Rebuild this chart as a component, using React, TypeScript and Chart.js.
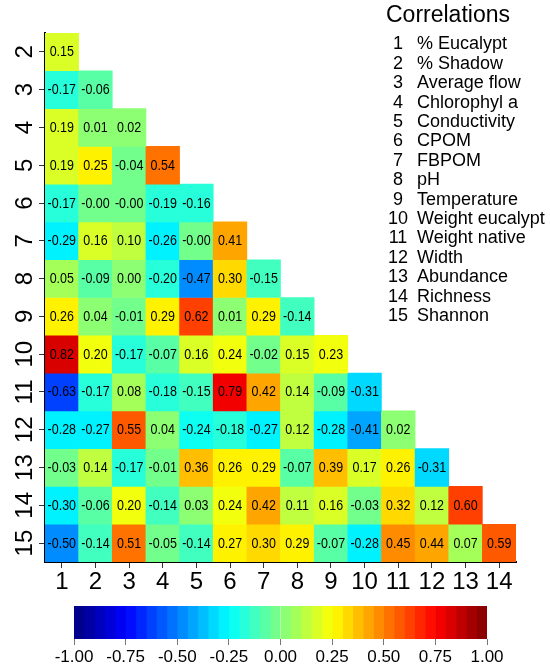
import React, { useEffect, useRef } from 'react';
import { Chart, registerables } from 'chart.js';

Chart.register(...registerables);

const FONT = '"Liberation Sans", Arial, sans-serif';

// column categories (variables 1..14) and row labels (variables 2..15)
const COLS = ['1', '2', '3', '4', '5', '6', '7', '8', '9', '10', '11', '12', '13', '14'];
const ROW_LABELS = [2, 3, 4, 5, 6, 7, 8, 9, 10, 11, 12, 13, 14, 15];

// lower-triangle correlations, one array per row
const ROW_2 = [0.15];
const ROW_3 = [-0.17, -0.06];
const ROW_4 = [0.19, 0.01, 0.02];
const ROW_5 = [0.19, 0.25, -0.04, 0.54];
const ROW_6 = [-0.17, -0.004, -0.004, -0.19, -0.16];
const ROW_7 = [-0.29, 0.16, 0.1, -0.26, -0.004, 0.41];
const ROW_8 = [0.05, -0.09, 0.0, -0.2, -0.47, 0.3, -0.15];
const ROW_9 = [0.26, 0.04, -0.01, 0.29, 0.62, 0.01, 0.29, -0.14];
const ROW_10 = [0.82, 0.2, -0.17, -0.07, 0.16, 0.24, -0.02, 0.15, 0.23];
const ROW_11 = [-0.63, -0.17, 0.08, -0.18, -0.15, 0.79, 0.42, 0.14, -0.09, -0.31];
const ROW_12 = [-0.28, -0.27, 0.55, 0.04, -0.24, -0.18, -0.27, 0.12, -0.28, -0.41, 0.02];
const ROW_13 = [-0.03, 0.14, -0.17, -0.01, 0.36, 0.26, 0.29, -0.07, 0.39, 0.17, 0.26, -0.31];
const ROW_14 = [-0.3, -0.06, 0.2, -0.14, 0.03, 0.24, 0.42, 0.11, 0.16, -0.03, 0.32, 0.12, 0.6];
const ROW_15 = [-0.5, -0.14, 0.51, -0.05, -0.14, 0.27, 0.3, 0.29, -0.07, -0.28, 0.45, 0.44, 0.07, 0.59];
const ROWS = [ROW_2, ROW_3, ROW_4, ROW_5, ROW_6, ROW_7, ROW_8, ROW_9, ROW_10, ROW_11, ROW_12, ROW_13, ROW_14, ROW_15];

// legend
const LEGEND_TITLE = 'Correlations';
const LEGEND_NUMS = ['1', '2', '3', '4', '5', '6', '7', '8', '9', '10', '11', '12', '13', '14', '15'];
const LEGEND_NAMES = [
  '% Eucalypt', '% Shadow', 'Average flow', 'Chlorophyl a', 'Conductivity', 'CPOM', 'FBPOM', 'pH',
  'Temperature', 'Weight eucalypt', 'Weight native', 'Width', 'Abundance', 'Richness', 'Shannon',
];

// colour bar
const COLORBAR_TICKS = [-1, -0.75, -0.5, -0.25, 0, 0.25, 0.5, 0.75, 1];
const N_BANDS = 40;
const JET = ['#00007F', '#0000FF', '#007FFF', '#00FFFF', '#7FFF7F', '#FFFF00', '#FF7F00', '#FF0000', '#7F0000'];

function hexToRgb(h: string) {
  return [parseInt(h.slice(1, 3), 16), parseInt(h.slice(3, 5), 16), parseInt(h.slice(5, 7), 16)];
}
function jet(v: number) {
  const t = Math.max(0, Math.min(1, (v + 1) / 2)) * (JET.length - 1);
  const i = Math.min(JET.length - 2, Math.floor(t));
  const f = t - i;
  const a = hexToRgb(JET[i]);
  const b = hexToRgb(JET[i + 1]);
  const c = a.map((x, k) => Math.round(x + (b[k] - x) * f));
  return `rgb(${c[0]},${c[1]},${c[2]})`;
}
function bandIndex(v: number) {
  return Math.max(0, Math.min(N_BANDS - 1, Math.floor(((v + 1) / 2) * N_BANDS)));
}
function bandMid(i: number) {
  return -1 + ((i + 0.5) * 2) / N_BANDS;
}
function cellColor(v: number) {
  return jet(bandMid(bandIndex(v)));
}

const cellText = {
  id: 'cellText',
  afterDatasetsDraw(chart: any) {
    const ctx = chart.ctx;
    chart.data.datasets.forEach((ds: any, i: number) => {
      const meta = chart.getDatasetMeta(i);
      const vals = ROWS[i];
      meta.data.forEach((el: any, j: number) => {
        if (j >= vals.length) return;
        const p = el.getProps(['x', 'y', 'base'], true);
        ctx.save();
        ctx.translate(p.x, (p.y + p.base) / 2 + 0.5);
        ctx.scale(0.86, 1);
        ctx.font = `14.5px ${FONT}`;
        ctx.fillStyle = '#000';
        ctx.textAlign = 'center';
        ctx.textBaseline = 'middle';
        ctx.fillText(vals[j].toFixed(2), 0, 0);
        ctx.restore();
      });
    });
  },
};

export default function App() {
  const mainRef = useRef<HTMLCanvasElement>(null);
  const barRef = useRef<HTMLCanvasElement>(null);

  useEffect(() => {
    const main = new Chart(mainRef.current as HTMLCanvasElement, {
      type: 'bar',
      data: {
        labels: COLS,
        datasets: ROWS.map((vals, ri) => {
          const r = ROW_LABELS[ri];
          return {
            label: String(r),
            data: COLS.map((_, ci) => (ci < vals.length ? [r - 0.5, r + 0.5] : null)),
            backgroundColor: COLS.map((_, ci) => (ci < vals.length ? cellColor(vals[ci]) : 'rgba(0,0,0,0)')),
            borderWidth: 0,
            barPercentage: 1,
            categoryPercentage: 1,
            grouped: false,
          } as any;
        }),
      },
      options: {
        animation: false,
        responsive: false,
        events: [],
        layout: { padding: { left: 0, right: 34, top: 33, bottom: 0 } },
        plugins: { legend: { display: false }, tooltip: { enabled: false } },
        scales: {
          x: {
            type: 'category',
            offset: true,
            grid: { display: true, drawOnChartArea: false, drawTicks: true, tickLength: 6, color: '#333', offset: false },
            border: { display: true, color: '#000', width: 2 },
            ticks: { font: { family: FONT, size: 24 }, color: '#000', padding: 0, maxRotation: 0, autoSkip: false },
            afterFit: (s: any) => { s.height = 38; },
          },
          y: {
            type: 'linear',
            min: 1.5,
            max: 15.5,
            reverse: true,
            afterBuildTicks: (s: any) => { s.ticks = ROW_LABELS.map((v) => ({ value: v })); },
            grid: { display: true, drawOnChartArea: false, drawTicks: true, tickLength: 6, color: '#333' },
            border: { display: true, color: '#000', width: 2 },
            ticks: { font: { family: FONT, size: 24 }, color: '#000', padding: 0, minRotation: 90, maxRotation: 90, crossAlign: 'center', autoSkip: false },
            afterFit: (s: any) => { s.width = 45; },
          },
        },
      } as any,
      plugins: [cellText],
    });

    const bands = Array.from({ length: N_BANDS }, (_, i) => i);
    const bar = new Chart(barRef.current as HTMLCanvasElement, {
      type: 'bar',
      data: {
        labels: [''],
        datasets: bands.map((i) => ({
          data: [[-1 + (i * 2) / N_BANDS, -1 + ((i + 1) * 2) / N_BANDS]],
          backgroundColor: jet(bandMid(i)),
          borderWidth: 0,
          barPercentage: 1,
          categoryPercentage: 1,
          grouped: false,
        })) as any,
      },
      options: {
        indexAxis: 'y',
        animation: false,
        responsive: false,
        events: [],
        layout: { padding: { left: 74, right: 63, top: 11, bottom: 0 } },
        plugins: { legend: { display: false }, tooltip: { enabled: false } },
        scales: {
          y: { display: false },
          x: {
            type: 'linear',
            min: -1,
            max: 1,
            afterBuildTicks: (s: any) => { s.ticks = COLORBAR_TICKS.map((v) => ({ value: v })); },
            ticks: { callback: (v: any) => Number(v).toFixed(2), font: { family: FONT, size: 17 }, color: '#000', padding: 2, maxRotation: 0, autoSkip: false },
            grid: { display: true, drawOnChartArea: false, drawTicks: true, tickLength: 6, color: '#777' },
            border: { display: false },
            afterFit: (s: any) => { s.height = 32; },
          },
        },
      } as any,
    });

    return () => {
      main.destroy();
      bar.destroy();
    };
  }, []);

  const rowH = 19.4;
  return (
    <div style={{ position: 'fixed', left: 0, top: 0, width: 550, height: 671, background: '#fff', overflow: 'hidden', fontFamily: FONT }}>
      <canvas ref={mainRef} width={550} height={600} style={{ position: 'absolute', left: 0, top: 0, width: 550, height: 600 }} />
      <canvas ref={barRef} width={550} height={76} style={{ position: 'absolute', left: 0, top: 595, width: 550, height: 76 }} />
      <div style={{ position: 'absolute', left: 386, top: 1, fontSize: 23, lineHeight: '26px', color: '#000', whiteSpace: 'nowrap' }}>
        {LEGEND_TITLE}
      </div>
      {LEGEND_NAMES.map((name, i) => (
        <div key={name} style={{ position: 'absolute', left: 0, top: 43.3 + i * rowH - 11, height: 22, lineHeight: '22px', fontSize: 18, color: '#000', whiteSpace: 'nowrap' }}>
          <span style={{ position: 'absolute', left: 383, width: 30, textAlign: 'center' }}>{LEGEND_NUMS[i]}</span>
          <span style={{ position: 'absolute', left: 417 }}>{name}</span>
        </div>
      ))}
    </div>
  );
}
